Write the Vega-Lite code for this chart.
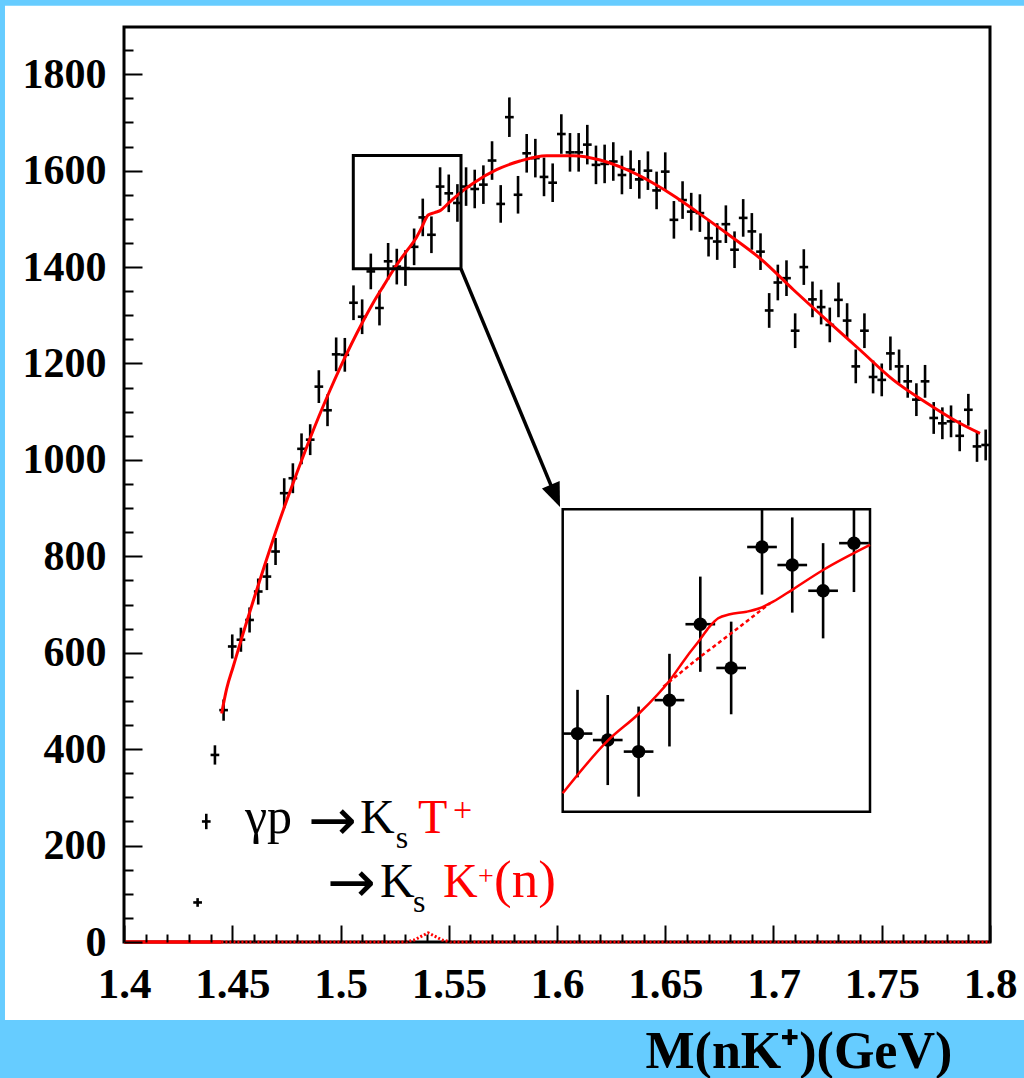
{
  "$schema": "https://vega.github.io/schema/vega-lite/v6.json",
  "width": 866,
  "height": 915,
  "autosize": "none",
  "padding": {"left": 124, "top": 27, "right": 34, "bottom": 136},
  "background": "#66CCFF",
  "config": {"view": {"stroke": null}},
  "datasets": {
    "one": [{}],
    "pts": [
      {"x":1.434,"y":82,"e":9},{"x":1.438,"y":250,"e":16},{"x":1.442,"y":388,"e":20},{"x":1.446,"y":481,"e":22},
      {"x":1.450,"y":613,"e":25},{"x":1.454,"y":627,"e":25},{"x":1.458,"y":668,"e":26},{"x":1.462,"y":727,"e":27},
      {"x":1.466,"y":758,"e":28},{"x":1.470,"y":810,"e":28},{"x":1.474,"y":931,"e":31},{"x":1.478,"y":962,"e":31},
      {"x":1.482,"y":1023,"e":32},{"x":1.486,"y":1042,"e":32},{"x":1.490,"y":1152,"e":34},{"x":1.494,"y":1103,"e":33},
      {"x":1.498,"y":1219,"e":35},{"x":1.502,"y":1218,"e":35},{"x":1.506,"y":1326,"e":36},{"x":1.510,"y":1297,"e":36},
      {"x":1.514,"y":1391,"e":37},{"x":1.518,"y":1315,"e":36},{"x":1.522,"y":1412,"e":38},{"x":1.526,"y":1401,"e":37},
      {"x":1.530,"y":1398,"e":37},{"x":1.534,"y":1442,"e":38},{"x":1.538,"y":1503,"e":39},{"x":1.542,"y":1467,"e":38},
      {"x":1.546,"y":1567,"e":40},{"x":1.550,"y":1553,"e":39},{"x":1.554,"y":1533,"e":39},{"x":1.558,"y":1567,"e":40},
      {"x":1.562,"y":1562,"e":40},{"x":1.566,"y":1571,"e":40},{"x":1.570,"y":1621,"e":40},{"x":1.574,"y":1531,"e":39},
      {"x":1.578,"y":1711,"e":41},{"x":1.582,"y":1550,"e":39},{"x":1.586,"y":1636,"e":40},{"x":1.590,"y":1626,"e":40},
      {"x":1.594,"y":1587,"e":40},{"x":1.598,"y":1575,"e":40},{"x":1.602,"y":1676,"e":41},{"x":1.606,"y":1638,"e":40},
      {"x":1.610,"y":1638,"e":40},{"x":1.614,"y":1654,"e":41},{"x":1.618,"y":1612,"e":40},{"x":1.622,"y":1614,"e":40},
      {"x":1.626,"y":1619,"e":40},{"x":1.630,"y":1591,"e":40},{"x":1.634,"y":1602,"e":40},{"x":1.638,"y":1582,"e":40},
      {"x":1.642,"y":1600,"e":40},{"x":1.646,"y":1559,"e":39},{"x":1.650,"y":1598,"e":40},{"x":1.654,"y":1498,"e":39},
      {"x":1.658,"y":1539,"e":39},{"x":1.662,"y":1515,"e":39},{"x":1.666,"y":1512,"e":39},{"x":1.670,"y":1460,"e":38},
      {"x":1.674,"y":1453,"e":38},{"x":1.678,"y":1489,"e":39},{"x":1.682,"y":1436,"e":38},{"x":1.686,"y":1502,"e":39},
      {"x":1.690,"y":1474,"e":38},{"x":1.694,"y":1432,"e":38},{"x":1.698,"y":1310,"e":36},{"x":1.702,"y":1368,"e":37},
      {"x":1.706,"y":1377,"e":37},{"x":1.710,"y":1268,"e":36},{"x":1.714,"y":1400,"e":37},{"x":1.718,"y":1333,"e":37},
      {"x":1.722,"y":1317,"e":36},{"x":1.726,"y":1280,"e":36},{"x":1.730,"y":1332,"e":36},{"x":1.734,"y":1289,"e":36},
      {"x":1.738,"y":1194,"e":35},{"x":1.742,"y":1268,"e":36},{"x":1.746,"y":1172,"e":34},{"x":1.750,"y":1166,"e":34},
      {"x":1.754,"y":1221,"e":35},{"x":1.758,"y":1194,"e":35},{"x":1.762,"y":1163,"e":34},{"x":1.766,"y":1125,"e":34},
      {"x":1.770,"y":1163,"e":34},{"x":1.774,"y":1087,"e":33},{"x":1.778,"y":1076,"e":33},{"x":1.782,"y":1080,"e":33},
      {"x":1.786,"y":1050,"e":32},{"x":1.790,"y":1104,"e":33},{"x":1.794,"y":1028,"e":32},{"x":1.798,"y":1031,"e":32}
    ],
    "fit": [
      {"x":1.4451,"y":474},{"x":1.4474,"y":525},{"x":1.4505,"y":572},{"x":1.455,"y":640},{"x":1.46,"y":712},
      {"x":1.465,"y":782},{"x":1.47,"y":850},{"x":1.475,"y":914},{"x":1.48,"y":975},{"x":1.485,"y":1034},
      {"x":1.49,"y":1090},{"x":1.495,"y":1143},{"x":1.50,"y":1193},{"x":1.505,"y":1240},{"x":1.51,"y":1284},
      {"x":1.515,"y":1325},{"x":1.52,"y":1362},{"x":1.525,"y":1398},{"x":1.53,"y":1430},{"x":1.535,"y":1461},
      {"x":1.5375,"y":1482},{"x":1.5405,"y":1508},{"x":1.5435,"y":1513},{"x":1.546,"y":1517},{"x":1.55,"y":1533},
      {"x":1.555,"y":1553},{"x":1.5613,"y":1574},{"x":1.5721,"y":1602},{"x":1.5829,"y":1620},{"x":1.5952,"y":1631},
      {"x":1.6075,"y":1631},{"x":1.6199,"y":1622},{"x":1.6322,"y":1602},{"x":1.6445,"y":1574},{"x":1.6553,"y":1544},
      {"x":1.6645,"y":1515},{"x":1.6784,"y":1470},{"x":1.6938,"y":1418},{"x":1.7092,"y":1353},{"x":1.7246,"y":1290},
      {"x":1.7400,"y":1228},{"x":1.7553,"y":1166},{"x":1.7708,"y":1118},{"x":1.7861,"y":1076},{"x":1.7954,"y":1055}
    ],
    "base": [{"x":1.4,"y":0},{"x":1.445,"y":0}],
    "sig": [
      {"x":1.445,"y":0},{"x":1.530,"y":0},{"x":1.534,"y":4},{"x":1.537,"y":11},{"x":1.5405,"y":19},
      {"x":1.544,"y":11},{"x":1.547,"y":4},{"x":1.551,"y":0},{"x":1.8,"y":0}
    ],
    "ins": [
      {"x":1.5083,"y":1457,"e":34},{"x":1.5132,"y":1452,"e":35},{"x":1.5182,"y":1443,"e":35},{"x":1.5232,"y":1483,"e":36},
      {"x":1.5282,"y":1542,"e":37},{"x":1.5332,"y":1508,"e":36},{"x":1.5382,"y":1602,"e":37},{"x":1.5431,"y":1588,"e":37},
      {"x":1.5481,"y":1568,"e":37},{"x":1.5531,"y":1605,"e":38}
    ],
    "insfit": [
      {"x":1.5059,"y":1410.6},{"x":1.5132,"y":1451.5},{"x":1.5183,"y":1472.8},{"x":1.5233,"y":1498.7},{"x":1.5260,"y":1516.8},
      {"x":1.5281,"y":1529.7},{"x":1.5297,"y":1540.1},{"x":1.5311,"y":1546.6},{"x":1.5330,"y":1549.7},{"x":1.5357,"y":1551.7},
      {"x":1.5378,"y":1554.4},{"x":1.5400,"y":1559.5},{"x":1.5432,"y":1569.1},{"x":1.5481,"y":1584.1},{"x":1.5557,"y":1603.6}
    ],
    "insbg": [
      {"x":1.5222,"y":1493.5},{"x":1.5282,"y":1516.8},{"x":1.5332,"y":1534.9},{"x":1.5395,"y":1558.3}
    ]
  },
  "layer": [
    {
      "layer": [
        {
          "data": {"name": "one"},
          "mark": {"type": "rect", "fill": "white", "clip": false},
          "encoding": {
            "x": {"datum": 1.34503, "type": "quantitative"},
            "x2": {"datum": 1.8157},
            "y": {"datum": 1941.9, "type": "quantitative"},
            "y2": {"datum": -161.8}
          }
        },
        {
          "data": {"name": "one"},
          "mark": {"type": "rect", "fill": null, "fillOpacity": 0, "stroke": "black", "strokeWidth": 3},
          "encoding": {
            "x": {"datum": 1.4, "type": "quantitative"},
            "x2": {"datum": 1.8},
            "y": {"datum": 0, "type": "quantitative"},
            "y2": {"datum": 1898}
          }
        },
        {
          "data": {"name": "pts"},
          "mark": {"type": "errorbar", "ticks": false, "color": "black", "thickness": 2.6},
          "encoding": {
            "x": {
              "field": "x", "type": "quantitative",
              "scale": {"domain": [1.4, 1.8], "nice": false, "zero": false},
              "axis": {
                "values": [1.4,1.41,1.42,1.43,1.44,1.45,1.46,1.47,1.48,1.49,1.5,1.51,1.52,1.53,1.54,1.55,1.56,1.57,1.58,1.59,1.6,1.61,1.62,1.63,1.64,1.65,1.66,1.67,1.68,1.69,1.7,1.71,1.72,1.73,1.74,1.75,1.76,1.77,1.78,1.79,1.8],
                "tickCount": 200,
                "labelExpr": "round(datum.value*100) % 5 === 0 ? format(datum.value, '.3~f') : ''",
                "tickSize": {"condition": {"test": "round(datum.value*100) % 5 === 0", "value": -17}, "value": -8},
                "tickColor": "black", "tickWidth": 2, "domain": false, "grid": false,
                "labelFont": "Liberation Serif", "labelFontWeight": "bold", "labelFontSize": 43, "labelColor": "black",
                "labelPadding": 72, "labelBaseline": "alphabetic", "labelFlush": false, "labelOverlap": false, "labelBound": false,
                "title": "M(nK⁺)(GeV)", "titleFont": "Liberation Serif", "titleFontWeight": "bold", "titleFontSize": 52,
                "titleColor": "black", "titleX": 521, "titleY": 125, "titleAlign": "left", "titleAnchor": "start", "titleBaseline": "alphabetic",
                "zindex": 1
              }
            },
            "y": {
              "field": "y", "type": "quantitative",
              "scale": {"domain": [0, 1898], "nice": false, "zero": false},
              "axis": {
                "values": [0,50,100,150,200,250,300,350,400,450,500,550,600,650,700,750,800,850,900,950,1000,1050,1100,1150,1200,1250,1300,1350,1400,1450,1500,1550,1600,1650,1700,1750,1800,1850],
                "tickCount": 200,
                "labelExpr": "datum.value % 200 === 0 ? format(datum.value, 'd') : ''",
                "tickSize": {"condition": {"test": "datum.value % 200 === 0", "value": -18}, "value": -9},
                "tickColor": "black", "tickWidth": 2, "domain": false, "grid": false,
                "labelFont": "Liberation Serif", "labelFontWeight": "bold", "labelFontSize": 42, "labelColor": "black",
                "labelPadding": 36, "labelBaseline": "middle", "labelFlush": false, "labelOverlap": false, "labelBound": false,
                "title": null, "zindex": 1
              }
            },
            "yError": {"field": "e"}
          }
        },
        {
          "data": {"name": "pts"},
          "mark": {"type": "tick", "orient": "horizontal", "color": "black", "size": 8.7, "thickness": 2.6, "opacity": 1},
          "encoding": {
            "x": {"field": "x", "type": "quantitative"},
            "y": {"field": "y", "type": "quantitative"}
          }
        },
        {
          "data": {"name": "fit"},
          "mark": {"type": "line", "color": "red", "strokeWidth": 3, "interpolate": "monotone"},
          "encoding": {
            "x": {"field": "x", "type": "quantitative"},
            "y": {"field": "y", "type": "quantitative"}
          }
        },
        {
          "data": {"name": "base"},
          "mark": {"type": "line", "color": "red", "strokeWidth": 3.5},
          "encoding": {
            "x": {"field": "x", "type": "quantitative"},
            "y": {"field": "y", "type": "quantitative"}
          }
        },
        {
          "data": {"name": "sig"},
          "mark": {"type": "line", "color": "red", "strokeWidth": 3, "strokeDash": [2, 2]},
          "encoding": {
            "x": {"field": "x", "type": "quantitative"},
            "y": {"field": "y", "type": "quantitative"}
          }
        },
        {
          "data": {"name": "one"},
          "mark": {"type": "rect", "fill": null, "fillOpacity": 0, "stroke": "black", "strokeWidth": 3},
          "encoding": {
            "x": {"datum": 1.50591, "type": "quantitative"},
            "x2": {"datum": 1.55566},
            "y": {"datum": 1396.3, "type": "quantitative"},
            "y2": {"datum": 1631.3}
          }
        },
        {
          "data": {"name": "one"},
          "mark": {"type": "rule", "color": "black", "strokeWidth": 3.5},
          "encoding": {
            "x": {"datum": 1.55566, "type": "quantitative"},
            "x2": {"datum": 1.5992},
            "y": {"datum": 1396.3, "type": "quantitative"},
            "y2": {"datum": 926}
          }
        },
        {
          "data": {"name": "one"},
          "mark": {"type": "point", "shape": "M0,-1L0.8,1L-0.8,1Z", "filled": true, "color": "black", "opacity": 1, "size": 576, "angle": 157.4},
          "encoding": {
            "x": {"datum": 1.59926, "type": "quantitative"},
            "y": {"datum": 925.5, "type": "quantitative"}
          }
        },
        {
          "data": {"name": "one"},
          "mark": {"type": "text", "text": "γp", "font": "Liberation Serif", "fontSize": 50, "color": "black", "align": "left", "baseline": "alphabetic"},
          "encoding": {"x": {"datum": 1.45589, "type": "quantitative"}, "y": {"datum": 226.1, "type": "quantitative"}}
        },
        {
          "data": {"name": "one"},
          "mark": {"type": "text", "text": "→", "font": "DejaVu Sans", "fontSize": 58, "color": "black", "align": "left", "baseline": "alphabetic"},
          "encoding": {"x": {"datum": 1.48499, "type": "quantitative"}, "y": {"datum": 211.6, "type": "quantitative"}}
        },
        {
          "data": {"name": "one"},
          "mark": {"type": "text", "text": "K", "font": "Liberation Serif", "fontSize": 48, "color": "black", "align": "left", "baseline": "alphabetic"},
          "encoding": {"x": {"datum": 1.50901, "type": "quantitative"}, "y": {"datum": 226.1, "type": "quantitative"}}
        },
        {
          "data": {"name": "one"},
          "mark": {"type": "text", "text": "s", "font": "Liberation Serif", "fontSize": 32, "color": "black", "align": "left", "baseline": "alphabetic"},
          "encoding": {"x": {"datum": 1.52552, "type": "quantitative"}, "y": {"datum": 195.0, "type": "quantitative"}}
        },
        {
          "data": {"name": "one"},
          "mark": {"type": "text", "text": "T", "font": "Liberation Serif", "fontSize": 48, "color": "red", "align": "left", "baseline": "alphabetic"},
          "encoding": {"x": {"datum": 1.5358, "type": "quantitative"}, "y": {"datum": 226.1, "type": "quantitative"}}
        },
        {
          "data": {"name": "one"},
          "mark": {"type": "text", "text": "+", "font": "Liberation Serif", "fontSize": 34, "color": "red", "align": "left", "baseline": "alphabetic"},
          "encoding": {"x": {"datum": 1.55196, "type": "quantitative"}, "y": {"datum": 251.0, "type": "quantitative"}}
        },
        {
          "data": {"name": "one"},
          "mark": {"type": "text", "text": "→", "font": "DejaVu Sans", "fontSize": 58, "color": "black", "align": "left", "baseline": "alphabetic"},
          "encoding": {"x": {"datum": 1.49376, "type": "quantitative"}, "y": {"datum": 83.0, "type": "quantitative"}}
        },
        {
          "data": {"name": "one"},
          "mark": {"type": "text", "text": "K", "font": "Liberation Serif", "fontSize": 48, "color": "black", "align": "left", "baseline": "alphabetic"},
          "encoding": {"x": {"datum": 1.51824, "type": "quantitative"}, "y": {"datum": 93.4, "type": "quantitative"}}
        },
        {
          "data": {"name": "one"},
          "mark": {"type": "text", "text": "s", "font": "Liberation Serif", "fontSize": 32, "color": "black", "align": "left", "baseline": "alphabetic"},
          "encoding": {"x": {"datum": 1.53349, "type": "quantitative"}, "y": {"datum": 62.2, "type": "quantitative"}}
        },
        {
          "data": {"name": "one"},
          "mark": {"type": "text", "text": "K", "font": "Liberation Serif", "fontSize": 48, "color": "red", "align": "left", "baseline": "alphabetic"},
          "encoding": {"x": {"datum": 1.54734, "type": "quantitative"}, "y": {"datum": 93.4, "type": "quantitative"}}
        },
        {
          "data": {"name": "one"},
          "mark": {"type": "text", "text": "+", "font": "Liberation Serif", "fontSize": 28, "color": "red", "align": "left", "baseline": "alphabetic"},
          "encoding": {"x": {"datum": 1.56351, "type": "quantitative"}, "y": {"datum": 118.3, "type": "quantitative"}}
        },
        {
          "data": {"name": "one"},
          "mark": {"type": "text", "text": "(n)", "font": "Liberation Serif", "fontSize": 53, "color": "red", "align": "left", "baseline": "alphabetic"},
          "encoding": {"x": {"datum": 1.5709, "type": "quantitative"}, "y": {"datum": 93.4, "type": "quantitative"}}
        }
      ]
    },
    {
      "layer": [
        {
          "data": {"name": "one"},
          "mark": {"type": "rect", "fill": "white", "stroke": "black", "strokeWidth": 2.5},
          "encoding": {
            "x": {"datum": 1.5059, "type": "quantitative", "axis": null,
                  "scale": {"domain": [1.5059, 1.5557], "range": [438.7, 746], "nice": false, "zero": false}},
            "x2": {"datum": 1.5557},
            "y": {"datum": 1396.3, "type": "quantitative", "axis": null,
                  "scale": {"domain": [1396.3, 1631.3], "range": [784.7, 482.3], "nice": false, "zero": false, "clamp": true}},
            "y2": {"datum": 1631.3}
          }
        },
        {
          "data": {"name": "ins"},
          "mark": {"type": "errorbar", "ticks": false, "color": "black", "thickness": 2.6},
          "encoding": {
            "x": {"field": "x", "type": "quantitative", "axis": null},
            "y": {"field": "y", "type": "quantitative", "axis": null},
            "yError": {"field": "e"}
          }
        },
        {
          "data": {"name": "ins"},
          "mark": {"type": "tick", "orient": "horizontal", "color": "black", "size": 29.7, "thickness": 2.6, "opacity": 1},
          "encoding": {
            "x": {"field": "x", "type": "quantitative", "axis": null},
            "y": {"field": "y", "type": "quantitative", "axis": null}
          }
        },
        {
          "data": {"name": "ins"},
          "mark": {"type": "circle", "color": "black", "size": 180, "opacity": 1},
          "encoding": {
            "x": {"field": "x", "type": "quantitative", "axis": null},
            "y": {"field": "y", "type": "quantitative", "axis": null}
          }
        },
        {
          "data": {"name": "insfit"},
          "mark": {"type": "line", "color": "red", "strokeWidth": 2.5, "interpolate": "monotone"},
          "encoding": {
            "x": {"field": "x", "type": "quantitative", "axis": null},
            "y": {"field": "y", "type": "quantitative", "axis": null}
          }
        },
        {
          "data": {"name": "insbg"},
          "mark": {"type": "line", "color": "red", "strokeWidth": 2.5, "strokeDash": [4, 3]},
          "encoding": {
            "x": {"field": "x", "type": "quantitative", "axis": null},
            "y": {"field": "y", "type": "quantitative", "axis": null}
          }
        }
      ]
    }
  ],
  "resolve": {"scale": {"x": "independent", "y": "independent"}}
}
